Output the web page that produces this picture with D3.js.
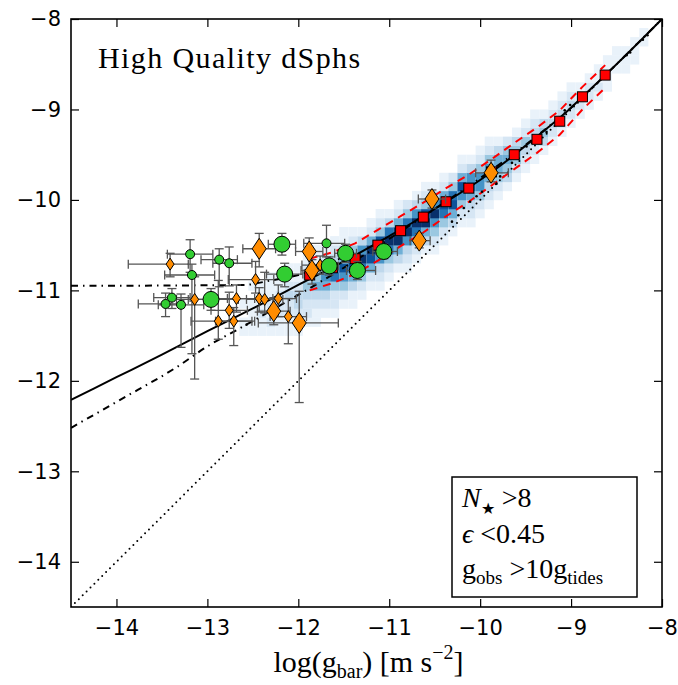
<!DOCTYPE html>
<html>
<head>
<meta charset="utf-8">
<script src="https://cdn.jsdelivr.net/npm/d3@7"></script>
<style>
  body { margin: 0; background: #fff; }
  .axis path { display: none; }
  .axis line { stroke: #000; stroke-width: 1.2; }
  .axis text { font-family: "DejaVu Sans", sans-serif; font-size: 21px; fill: #000; }
  .serif { font-family: "Liberation Serif", "DejaVu Serif", serif; fill: #000; }
</style>
</head>
<body>
<script>
// ---- data ----
var tickVals = [-14, -13, -12, -11, -10, -9, -8];

// 2D histogram of the galaxy sample: column centre, lower edge of first cell, cell levels (0-9) going up
var histX  = [-12.6, -12.5, -12.4, -12.3, -12.2, -12.1, -12.0, -11.9, -11.8, -11.7, -11.6, -11.5, -11.4, -11.3, -11.2,
              -11.1, -11.0, -10.9, -10.8, -10.7, -10.6, -10.5, -10.4, -10.3, -10.2, -10.1, -10.0, -9.9, -9.8, -9.7,
              -9.6, -9.5, -9.4, -9.3, -9.2, -9.1, -9.0, -8.9, -8.8, -8.7, -8.6, -8.5, -8.4, -8.3, -8.2];
var histY0 = [-11.5, -11.5, -11.5, -11.5, -11.5, -11.5, -11.5, -11.4, -11.4, -11.3, -11.3, -11.2, -11.2, -11.1, -11.0,
              -11.0, -10.9, -10.8, -10.8, -10.7, -10.6, -10.6, -10.5, -10.4, -10.3, -10.3, -10.2, -10.1, -10.0, -9.9,
              -9.8, -9.7, -9.6, -9.5, -9.4, -9.3, -9.2, -9.1, -9.0, -8.9, -8.8, -8.7, -8.6, -8.5, -8.4];
var histCounts = [
  [1,1,0,1], [1,1,1,1,0,1], [1,1,2,1,1,1], [1,2,1,2,1,1,1], [1,1,2,2,2,1,1], [1,1,2,2,3,2,1,1],
  [1,2,2,3,3,2,1,1], [1,2,2,3,4,3,2,1], [1,1,2,3,5,4,3,1,1], [1,2,3,5,6,4,2,1], [1,2,2,4,7,6,3,2,1],
  [1,2,4,6,8,5,3,1,1], [1,1,3,5,8,8,4,2,1], [1,2,4,7,9,6,3,1], [1,2,5,8,9,5,2,1], [1,2,3,6,9,8,4,2,1],
  [1,2,4,7,9,7,3,1], [1,3,5,9,9,5,2,1], [1,2,3,6,9,7,4,2], [1,2,4,7,9,6,3,1], [1,3,5,9,8,4,2,1],
  [1,2,4,6,9,6,3,1], [1,2,4,7,8,5,2,1], [1,3,5,8,7,4,2], [1,2,4,6,8,5,2,1], [1,2,3,5,7,6,3,1],
  [1,2,4,6,6,4,2,1], [1,2,3,5,6,4,2,1], [1,2,4,5,5,3,1], [1,3,4,5,4,2], [1,2,4,4,3,1],
  [1,2,3,4,2,1], [1,2,3,3,2,1], [1,3,4,3,1], [1,2,3,2,1], [1,2,3,2,1], [1,2,3,2,1],
  [1,2,2,1], [1,2,2,1], [1,2,1,1], [1,1,1,1], [0,1,1,1], [1,1,1], [1,1,1], [0,1,1]
];

// binned medians (red squares) and their scatter (red dashed)
var binX   = [-11.875, -11.625, -11.375, -11.125, -10.875, -10.625, -10.375, -10.125, -9.875, -9.625, -9.375, -9.125, -8.875, -8.625];
var binY   = [-10.83, -10.75, -10.65, -10.50, -10.34, -10.19, -10.02, -9.87, -9.69, -9.50, -9.33, -9.13, -8.86, -8.62];
var binUp  = [-10.65, -10.58, -10.48, -10.33, -10.18, -10.03, -9.87, -9.72, -9.55, -9.37, -9.20, -9.01, -8.75, -8.51];
var binLow = [-11.00, -10.92, -10.82, -10.67, -10.51, -10.36, -10.18, -10.02, -9.84, -9.66, -9.48, -9.28, -9.00, -8.76];

// individual points (small black dots)
var dotX = [-10.31, -10.24, -10.18, -10.11, -10.04, -9.98, -9.82, -9.78, -9.65, -9.58, -9.49, -9.43, -9.27, -9.07, -9.01, -8.39, -8.35, -8.16, -8.21, -12.57];
var dotY = [-10.24, -10.17, -10.09, -10.02, -9.96, -9.91, -9.82, -9.74, -9.59, -9.54, -9.41, -9.37, -9.25, -9.01, -8.95, -8.40, -8.37, -8.18, -8.23, -11.38];

// curves
var fitLine   = [[-14.5,-12.21],[-14,-11.96],[-13.5,-11.71],[-13,-11.45],[-12.5,-11.2],[-12,-10.94],[-11.5,-10.68],[-11,-10.4],
                 [-10.75,-10.255],[-10.5,-10.1],[-10,-9.78],[-9.75,-9.6],[-9.5,-9.4],[-9.25,-9.197],[-9,-8.98],[-8.75,-8.741],[-8.5,-8.5],[-8,-8]];
var lowCurve  = [[-14.5,-12.52],[-13.96,-12.21],[-13.34,-11.85],[-12.97,-11.6],[-12.68,-11.44],[-12,-11.05],[-11.5,-10.75],
                 [-11,-10.43],[-10.5,-10.1],[-10,-9.76],[-9.5,-9.39],[-9,-8.98],[-8.5,-8.5],[-8,-8]];
var floorLine = [[-14.5,-10.95],[-12.6,-10.94],[-12.3,-10.89],[-12.0,-10.83],[-11.7,-10.72],[-11.4,-10.58]];
var oneToOne  = [[-14.5,-14.5],[-8,-8]];

// dwarfs: x, y, xerr-, xerr+, yerr-, yerr+
var greenSmall = [
  [-13.19,-10.60,0.25,0.25,0.20,0.16], [-12.87,-10.66,0.20,0.20,0.30,0.12], [-12.76,-10.70,0.18,0.25,0.25,0.18],
  [-13.17,-10.83,0.30,0.25,0.87,0.12], [-13.39,-11.08,0.20,0.20,0.12,0.10], [-13.46,-11.15,0.30,0.20,0.14,0.12],
  [-13.29,-11.16,0.25,0.25,0.47,0.12], [-11.69,-10.48,0.25,0.20,0.15,0.20]
];
var greenBig = [
  [-12.18,-10.49,0.15,0.15,0.12,0.12], [-12.15,-10.82,0.20,0.20,0.14,0.12], [-12.96,-11.10,0.25,0.30,0.12,0.12],
  [-11.66,-10.73,0.10,0.10,0.10,0.10], [-11.48,-10.59,0.12,0.12,0.10,0.10], [-11.35,-10.78,0.12,0.20,0.10,0.10],
  [-11.06,-10.57,0.12,0.15,0.08,0.08]
];
var orangeSmall = [
  [-13.41,-10.71,0.46,0.20,0.14,0.12], [-12.47,-10.88,0.30,0.20,0.15,0.20], [-11.76,-10.72,0.20,0.15,0.10,0.10],
  [-13.14,-11.10,0.20,0.20,0.88,0.25], [-12.68,-11.09,0.20,0.20,0.15,0.15], [-12.43,-11.09,0.35,0.15,0.15,0.12],
  [-12.37,-11.10,0.20,0.20,0.15,0.30], [-12.22,-11.09,0.20,0.20,0.20,0.15], [-12.76,-11.22,0.20,0.20,0.20,0.20],
  [-12.88,-11.34,0.30,0.40,0.20,0.45], [-12.71,-11.34,0.20,0.20,0.27,0.15], [-12.11,-11.29,0.20,0.20,0.30,0.20]
];
var orangeBig = [
  [-12.43,-10.54,0.18,0.18,0.20,0.17], [-11.88,-10.57,0.15,0.15,0.20,0.15], [-11.85,-10.78,0.12,0.12,0.15,0.12],
  [-12.27,-11.23,0.18,0.18,0.15,0.15], [-11.99,-11.36,0.45,0.43,0.88,0.35], [-10.67,-10.45,0.10,0.12,0.08,0.08],
  [-10.53,-9.99,0.15,0.15,0.10,0.10], [-9.88,-9.70,0.17,0.19,0.10,0.14]
];

// ---- layout ----
var margin = {top: 19, right: 16, bottom: 78, left: 71},
    width = 678 - margin.left - margin.right,
    height = 685 - margin.top - margin.bottom;

var x = d3.scaleLinear().domain([-14.5, -8]).range([0, width]);
var y = d3.scaleLinear().domain([-14.5, -8]).range([height, 0]);
var fmt = d3.format('d');

var svg = d3.select('body').append('svg')
    .attr('width', 678)
    .attr('height', 685)
  .append('g')
    .attr('transform', 'translate(' + margin.left + ',' + margin.top + ')');

svg.append('clipPath').attr('id', 'plotclip')
  .append('rect').attr('width', width).attr('height', height);

var plot = svg.append('g').attr('clip-path', 'url(#plotclip)');

// histogram cells
var cells = [];
histX.forEach(function(cx, i) {
  histCounts[i].forEach(function(v, j) {
    if (v > 0) cells.push({x: cx, y: histY0[i] + j * 0.1, v: v});
  });
});
plot.selectAll('.cell')
    .data(cells)
  .enter().append('rect')
    .attr('class', 'cell')
    .attr('x', function(d) { return x(d.x - 0.05); })
    .attr('y', function(d) { return y(d.y + 0.1); })
    .attr('width', x(0.1) - x(0))
    .attr('height', y(0) - y(0.1) + 0.3)
    .attr('fill', function(d) { return d3.interpolateBlues(Math.pow(d.v / 9, 1.2)); });

var line = d3.line()
    .x(function(d) { return x(d[0]); })
    .y(function(d) { return y(d[1]); });

plot.append('path').datum(oneToOne)
    .attr('d', line).attr('fill', 'none').attr('stroke', '#000')
    .attr('stroke-width', 2).attr('stroke-linecap', 'round').attr('stroke-dasharray', '0,5.5');

plot.append('path').datum(lowCurve)
    .attr('d', line.curve(d3.curveMonotoneX)).attr('fill', 'none').attr('stroke', '#000')
    .attr('stroke-width', 2).attr('stroke-dasharray', '7,5,1.5,5');

plot.append('path').datum(floorLine)
    .attr('d', line.curve(d3.curveMonotoneX)).attr('fill', 'none').attr('stroke', '#000')
    .attr('stroke-width', 2).attr('stroke-dasharray', '7,5,1.5,5');

plot.append('path').datum(fitLine)
    .attr('d', line.curve(d3.curveMonotoneX)).attr('fill', 'none').attr('stroke', '#000')
    .attr('stroke-width', 2);

// scatter band
[binUp, binLow].forEach(function(arr) {
  plot.append('path').datum(binX.map(function(bx, i) { return [bx, arr[i]]; }))
      .attr('d', line.curve(d3.curveLinear)).attr('fill', 'none').attr('stroke', '#ff0000')
      .attr('stroke-width', 2).attr('stroke-dasharray', '8,6');
});

plot.selectAll('.dot')
    .data(dotX.map(function(dx, i) { return [dx, dotY[i]]; }))
  .enter().append('circle')
    .attr('cx', function(d) { return x(d[0]); })
    .attr('cy', function(d) { return y(d[1]); })
    .attr('r', 1.3)
    .attr('fill', '#000');

var sq = 10;
plot.selectAll('.bin')
    .data(binX.map(function(bx, i) { return [bx, binY[i]]; }))
  .enter().append('rect')
    .attr('x', function(d) { return x(d[0]) - sq / 2; })
    .attr('y', function(d) { return y(d[1]) - sq / 2; })
    .attr('width', sq).attr('height', sq)
    .attr('fill', '#ff0000').attr('stroke', '#000').attr('stroke-width', 1);

// error bars
var allDwarfs = orangeSmall.concat(greenSmall, orangeBig, greenBig);
var eb = plot.append('g').attr('stroke', '#555').attr('stroke-width', 1.3);
var cap = 4.5;
allDwarfs.forEach(function(d) {
  var cx = x(d[0]), cy = y(d[1]);
  var xl = x(d[0] - d[2]), xr = x(d[0] + d[3]);
  var yb = y(d[1] - d[4]), yt = y(d[1] + d[5]);
  eb.append('line').attr('x1', xl).attr('x2', xr).attr('y1', cy).attr('y2', cy);
  eb.append('line').attr('x1', cx).attr('x2', cx).attr('y1', yb).attr('y2', yt);
  [xl, xr].forEach(function(px) {
    eb.append('line').attr('x1', px).attr('x2', px).attr('y1', cy - cap).attr('y2', cy + cap);
  });
  [yb, yt].forEach(function(py) {
    eb.append('line').attr('x1', cx - cap).attr('x2', cx + cap).attr('y1', py).attr('y2', py);
  });
});

function diamond(w, h) {
  return 'M0,' + (-h) + 'L' + w + ',0L0,' + h + 'L' + (-w) + ',0Z';
}

function drawDiamonds(data, w, h) {
  plot.append('g').selectAll('path')
      .data(data)
    .enter().append('path')
      .attr('transform', function(d) { return 'translate(' + x(d[0]) + ',' + y(d[1]) + ')'; })
      .attr('d', diamond(w, h))
      .attr('fill', '#ff8c00').attr('stroke', '#000').attr('stroke-width', 1);
}
function drawCircles(data, r) {
  plot.append('g').selectAll('circle')
      .data(data)
    .enter().append('circle')
      .attr('cx', function(d) { return x(d[0]); })
      .attr('cy', function(d) { return y(d[1]); })
      .attr('r', r)
      .attr('fill', '#32cd32').attr('stroke', '#000').attr('stroke-width', 1);
}
drawDiamonds(orangeSmall, 4, 6);
drawCircles(greenSmall, 4.5);
drawDiamonds(orangeBig, 7, 10.5);
drawCircles(greenBig, 8);

// axes: ticks pointing in on all four sides
svg.append('g').attr('class', 'axis')
    .attr('transform', 'translate(0,' + height + ')')
    .call(d3.axisBottom(x).tickValues(tickVals).tickFormat(fmt).tickSizeInner(-8).tickSizeOuter(0).tickPadding(13));
svg.append('g').attr('class', 'axis')
    .call(d3.axisLeft(y).tickValues(tickVals).tickFormat(fmt).tickSizeInner(-8).tickSizeOuter(0).tickPadding(10));
svg.append('g').attr('class', 'axis')
    .call(d3.axisTop(x).tickValues(tickVals).tickSizeInner(-8).tickSizeOuter(0).tickFormat(''));
svg.append('g').attr('class', 'axis')
    .attr('transform', 'translate(' + width + ',0)')
    .call(d3.axisRight(y).tickValues(tickVals).tickSizeInner(-8).tickSizeOuter(0).tickFormat(''));

svg.append('rect')
    .attr('width', width).attr('height', height)
    .attr('fill', 'none').attr('stroke', '#000').attr('stroke-width', 1.6);

// label in the corner
svg.append('text').attr('class', 'serif')
    .attr('x', 27).attr('y', 49)
    .attr('font-size', '30px')
    .attr('letter-spacing', '1.4px')
    .text('High Quality dSphs');

// selection box
var box = svg.append('g').attr('transform', 'translate(' + (452 - margin.left) + ',' + (477 - margin.top) + ')');
box.append('rect').attr('width', 185).attr('height', 120)
    .attr('fill', '#fff').attr('stroke', '#000').attr('stroke-width', 1.5);

var t1 = box.append('text').attr('class', 'serif').attr('x', 10).attr('y', 30).attr('font-size', '28px');
t1.append('tspan').attr('font-style', 'italic').text('N');
t1.append('tspan').attr('font-size', '16px').attr('dy', 7).text('★');
t1.append('tspan').attr('dy', -7).text(' >8');

var t2 = box.append('text').attr('class', 'serif').attr('x', 10).attr('y', 66).attr('font-size', '28px');
t2.append('tspan').attr('font-style', 'italic').text('ϵ');
t2.append('tspan').text(' <0.45');

var t3 = box.append('text').attr('class', 'serif').attr('x', 10).attr('y', 101).attr('font-size', '28px');
t3.append('tspan').text('g');
t3.append('tspan').attr('font-size', '19px').attr('dy', 6).text('obs');
t3.append('tspan').attr('dy', -6).text(' >10g');
t3.append('tspan').attr('font-size', '19px').attr('dy', 6).text('tides');

// x label
var xl = svg.append('text').attr('class', 'serif')
    .attr('x', width / 2 + 2).attr('y', height + 65)
    .attr('text-anchor', 'middle')
    .attr('font-size', '30px');
xl.append('tspan').text('log(g');
xl.append('tspan').attr('font-size', '20px').attr('dy', 6).text('bar');
xl.append('tspan').attr('dy', -6).text(')  [m s');
xl.append('tspan').attr('font-size', '20px').attr('dy', -13).text('−2');
xl.append('tspan').attr('dy', 13).text(']');
</script>
</body>
</html>
